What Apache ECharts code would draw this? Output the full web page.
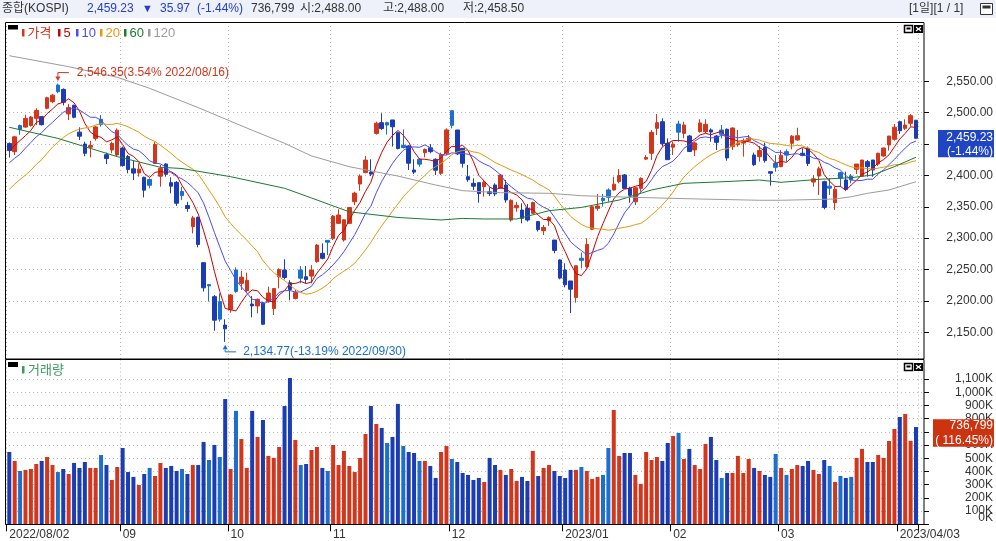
<!DOCTYPE html>
<html>
<head>
<meta charset="utf-8">
<script src="https://cdn.jsdelivr.net/npm/echarts@6/dist/echarts.min.js"></script>
<style>
html, body { margin: 0; padding: 0; background: #fff; }
#chart { width: 996px; height: 541px; }
</style>
</head>
<body>
<div id="chart"></div>
<script>
// 거래일 (2022/08/02 ~ 2023/04/06)
const dates = [
  '2022/08/02','2022/08/03','2022/08/04','2022/08/05','2022/08/08','2022/08/09','2022/08/10','2022/08/11','2022/08/12','2022/08/16',
  '2022/08/17','2022/08/18','2022/08/19','2022/08/22','2022/08/23','2022/08/24','2022/08/25','2022/08/26','2022/08/29','2022/08/30','2022/08/31',
  '2022/09/01','2022/09/02','2022/09/05','2022/09/06','2022/09/07','2022/09/08','2022/09/13','2022/09/14','2022/09/15','2022/09/16',
  '2022/09/19','2022/09/20','2022/09/21','2022/09/22','2022/09/23','2022/09/26','2022/09/27','2022/09/28','2022/09/29','2022/09/30',
  '2022/10/04','2022/10/05','2022/10/06','2022/10/07','2022/10/11','2022/10/12','2022/10/13','2022/10/14','2022/10/17','2022/10/18',
  '2022/10/19','2022/10/20','2022/10/21','2022/10/24','2022/10/25','2022/10/26','2022/10/27','2022/10/28','2022/10/31',
  '2022/11/01','2022/11/02','2022/11/03','2022/11/04','2022/11/07','2022/11/08','2022/11/09','2022/11/10','2022/11/11','2022/11/14',
  '2022/11/15','2022/11/16','2022/11/17','2022/11/18','2022/11/21','2022/11/22','2022/11/23','2022/11/24','2022/11/25','2022/11/28','2022/11/29','2022/11/30',
  '2022/12/01','2022/12/02','2022/12/05','2022/12/06','2022/12/07','2022/12/08','2022/12/09','2022/12/12','2022/12/13','2022/12/14',
  '2022/12/15','2022/12/16','2022/12/19','2022/12/20','2022/12/21','2022/12/22','2022/12/23','2022/12/26','2022/12/27','2022/12/28','2022/12/29',
  '2023/01/02','2023/01/03','2023/01/04','2023/01/05','2023/01/06','2023/01/09','2023/01/10','2023/01/11','2023/01/12','2023/01/13',
  '2023/01/16','2023/01/17','2023/01/18','2023/01/19','2023/01/20','2023/01/25','2023/01/26','2023/01/27','2023/01/30','2023/01/31',
  '2023/02/01','2023/02/02','2023/02/03','2023/02/06','2023/02/07','2023/02/08','2023/02/09','2023/02/10','2023/02/13','2023/02/14',
  '2023/02/15','2023/02/16','2023/02/17','2023/02/20','2023/02/21','2023/02/22','2023/02/23','2023/02/24','2023/02/27','2023/02/28',
  '2023/03/02','2023/03/03','2023/03/06','2023/03/07','2023/03/08','2023/03/09','2023/03/10','2023/03/13','2023/03/14','2023/03/15',
  '2023/03/16','2023/03/17','2023/03/20','2023/03/21','2023/03/22','2023/03/23','2023/03/24','2023/03/27','2023/03/28','2023/03/29','2023/03/30','2023/03/31',
  '2023/04/03','2023/04/04','2023/04/05','2023/04/06'
];

// 화면 이전 종가 (이동평균 계산용, 2022/07/06 ~ 2022/08/01)
const priorCloses = [2292.01, 2324.98, 2350.61, 2340.27, 2317.76, 2328.61, 2322.32, 2330.98, 2375.25, 2370.97,
  2386.85, 2409.16, 2393.14, 2403.69, 2412.90, 2415.53, 2435.27, 2451.50, 2452.25];

// [시가, 종가, 저가, 고가]
const ohlc = [
  [2451.0, 2439.6, 2428.5, 2452.5], [2437.9, 2461.5, 2432.5, 2463.0], [2479.5, 2473.1, 2465.0, 2481.0], [2477.0, 2490.8, 2476.0, 2497.0],
  [2479.5, 2493.1, 2477.7, 2494.5], [2491.0, 2503.5, 2480.4, 2507.0], [2493.7, 2480.9, 2479.5, 2494.6], [2507.0, 2523.8, 2505.4, 2525.5],
  [2517.6, 2527.9, 2515.0, 2529.8], [2544.0, 2533.5, 2531.0, 2546.35], [2537.0, 2516.5, 2511.7, 2538.8], [2498.0, 2508.1, 2488.4, 2513.8],
  [2511.7, 2492.7, 2491.1, 2512.8], [2469.0, 2462.5, 2456.5, 2476.6], [2450.0, 2435.3, 2430.6, 2453.7], [2445.0, 2447.5, 2428.8, 2455.0],
  [2459.0, 2477.3, 2455.4, 2478.8], [2489.4, 2481.0, 2477.7, 2496.2], [2433.0, 2426.9, 2418.2, 2436.3], [2440.6, 2450.9, 2435.3, 2453.7],
  [2432.6, 2472.1, 2430.0, 2475.0], [2443.7, 2415.6, 2414.0, 2445.9], [2430.0, 2409.4, 2403.4, 2432.5], [2410.5, 2403.7, 2392.8, 2423.0],
  [2404.0, 2410.0, 2398.0, 2419.3], [2397.0, 2376.5, 2365.0, 2398.0], [2393.5, 2384.3, 2379.4, 2395.3], [2419.0, 2449.5, 2418.2, 2453.7],
  [2398.8, 2411.4, 2382.0, 2416.6], [2418.2, 2401.8, 2398.0, 2419.3], [2388.5, 2382.8, 2371.5, 2397.0], [2389.0, 2355.7, 2351.5, 2391.0],
  [2374.5, 2367.9, 2361.0, 2382.0], [2352.0, 2347.2, 2342.0, 2358.0], [2318.4, 2332.3, 2307.7, 2335.3], [2333.2, 2290.0, 2285.4, 2334.3],
  [2261.0, 2220.9, 2215.0, 2261.0], [2226.0, 2223.9, 2199.0, 2227.0], [2206.8, 2169.3, 2152.5, 2209.4], [2198.8, 2170.9, 2167.0, 2212.0],
  [2161.5, 2155.5, 2134.77, 2170.7], [2186.6, 2209.4, 2181.3, 2211.0], [2249.3, 2215.2, 2213.2, 2253.5], [2228.0, 2237.9, 2217.4, 2248.0],
  [2216.4, 2232.8, 2213.2, 2245.0], [2195.0, 2192.1, 2173.8, 2207.8], [2192.0, 2202.5, 2180.2, 2204.0], [2197.0, 2162.9, 2161.5, 2198.8],
  [2198.8, 2212.6, 2197.0, 2222.7], [2188.0, 2219.7, 2177.5, 2220.0], [2238.6, 2250.0, 2220.0, 2252.0], [2249.3, 2237.4, 2234.4, 2266.3],
  [2229.0, 2218.1, 2201.0, 2233.0], [2204.0, 2213.1, 2202.5, 2217.4], [2249.3, 2236.2, 2228.0, 2255.7], [2238.5, 2234.0, 2228.0, 2255.7],
  [2239.6, 2249.2, 2228.0, 2257.0], [2262.5, 2289.0, 2261.0, 2290.6], [2275.9, 2267.9, 2266.3, 2291.7], [2296.5, 2293.6, 2273.0, 2296.5],
  [2299.7, 2335.2, 2297.1, 2336.9], [2323.6, 2336.9, 2322.5, 2346.0], [2297.1, 2329.2, 2294.5, 2330.0], [2323.6, 2348.8, 2322.5, 2349.2],
  [2358.0, 2371.8, 2352.8, 2374.0], [2386.3, 2399.0, 2375.7, 2401.7], [2404.5, 2424.4, 2403.4, 2431.0], [2405.5, 2402.1, 2399.0, 2425.7],
  [2467.0, 2483.2, 2465.0, 2485.6], [2484.0, 2474.7, 2472.4, 2499.0], [2484.0, 2480.3, 2465.0, 2485.6], [2488.4, 2477.5, 2446.0, 2488.5],
  [2468.0, 2442.9, 2441.5, 2469.7], [2448.0, 2444.5, 2443.0, 2473.4], [2447.0, 2419.5, 2408.6, 2448.5], [2408.6, 2405.3, 2402.3, 2425.7],
  [2425.7, 2418.0, 2414.0, 2427.2], [2436.3, 2441.3, 2428.8, 2443.0], [2444.0, 2437.9, 2435.3, 2450.0], [2425.7, 2408.3, 2400.7, 2427.2],
  [2403.4, 2433.4, 2400.7, 2436.3], [2435.3, 2472.5, 2432.5, 2475.0], [2503.1, 2479.8, 2475.0, 2503.1], [2472.4, 2434.3, 2432.5, 2472.4],
  [2443.2, 2419.3, 2412.4, 2443.2], [2398.0, 2393.2, 2390.0, 2416.6], [2387.4, 2382.8, 2376.8, 2395.3], [2388.5, 2371.1, 2356.6, 2388.5],
  [2382.1, 2389.0, 2366.2, 2391.6], [2374.0, 2371.1, 2367.3, 2381.0], [2384.7, 2370.6, 2367.0, 2387.4], [2379.5, 2400.5, 2379.0, 2402.2],
  [2384.7, 2360.9, 2356.6, 2392.8], [2329.0, 2360.3, 2326.4, 2362.0], [2348.5, 2352.2, 2342.0, 2358.0], [2344.8, 2331.6, 2323.7, 2355.6],
  [2347.5, 2329.0, 2326.4, 2354.4], [2339.6, 2356.7, 2338.6, 2358.2], [2326.4, 2313.7, 2310.6, 2326.4], [2312.0, 2317.1, 2305.0, 2321.0],
  [2327.8, 2332.8, 2319.5, 2335.0], [2297.0, 2280.5, 2276.0, 2297.0], [2265.3, 2236.4, 2234.5, 2266.3], [2249.3, 2225.7, 2221.6, 2260.0],
  [2231.8, 2218.7, 2180.7, 2231.8], [2205.6, 2256.0, 2197.2, 2256.0], [2268.0, 2264.7, 2252.0, 2277.0], [2254.6, 2290.0, 2252.0, 2299.8],
  [2314.1, 2350.2, 2313.0, 2352.8], [2347.5, 2351.3, 2343.8, 2370.4], [2363.5, 2359.9, 2350.3, 2370.4], [2376.8, 2365.1, 2358.0, 2379.4],
  [2376.8, 2386.1, 2375.7, 2398.0], [2390.0, 2399.9, 2387.4, 2410.0], [2400.7, 2379.4, 2378.8, 2402.2], [2379.4, 2368.3, 2356.6, 2382.0],
  [2358.0, 2380.3, 2352.8, 2382.0], [2379.4, 2395.3, 2374.0, 2397.0], [2426.0, 2428.6, 2424.5, 2432.4], [2435.3, 2468.7, 2424.6, 2472.3],
  [2475.0, 2484.0, 2464.5, 2498.0], [2485.6, 2450.5, 2445.9, 2491.0], [2451.2, 2425.1, 2424.6, 2459.0], [2445.0, 2449.8, 2432.5, 2453.7],
  [2481.9, 2468.9, 2453.7, 2487.2], [2467.0, 2480.4, 2459.1, 2485.6], [2462.8, 2438.2, 2437.9, 2464.4], [2440.6, 2451.7, 2431.0, 2453.7],
  [2469.8, 2483.6, 2468.2, 2489.4], [2469.8, 2481.5, 2467.1, 2489.4], [2472.4, 2469.1, 2453.7, 2475.0], [2462.8, 2452.7, 2440.6, 2464.4],
  [2472.4, 2465.6, 2459.0, 2480.3], [2473.5, 2427.9, 2423.5, 2475.0], [2445.9, 2475.5, 2440.6, 2476.6], [2449.0, 2451.2, 2445.9, 2472.4],
  [2451.5, 2455.1, 2430.0, 2459.0], [2455.5, 2459.0, 2453.7, 2464.4], [2432.5, 2417.2, 2415.0, 2436.3], [2429.9, 2439.6, 2422.0, 2447.0],
  [2444.8, 2423.6, 2420.4, 2452.2], [2406.0, 2403.5, 2383.7, 2406.0], [2419.3, 2412.9, 2406.0, 2432.5], [2414.0, 2432.1, 2413.0, 2440.6],
  [2437.9, 2432.4, 2421.9, 2441.6], [2451.2, 2462.6, 2441.6, 2464.4], [2456.5, 2463.3, 2455.4, 2476.0], [2435.3, 2431.9, 2430.5, 2443.2],
  [2443.2, 2419.1, 2415.0, 2445.9], [2389.5, 2394.6, 2382.0, 2400.7], [2399.0, 2410.6, 2368.8, 2414.0], [2390.0, 2349.0, 2346.0, 2391.6],
  [2382.9, 2379.7, 2368.8, 2395.3], [2356.6, 2377.9, 2344.9, 2382.0], [2404.4, 2395.7, 2382.0, 2406.0], [2392.8, 2377.9, 2375.7, 2406.0],
  [2399.0, 2392.8, 2387.4, 2402.2], [2409.7, 2418.2, 2402.2, 2418.2], [2399.0, 2424.6, 2398.0, 2424.6], [2421.9, 2414.0, 2398.0, 2424.6],
  [2424.6, 2408.6, 2398.0, 2424.6], [2418.2, 2435.3, 2415.0, 2436.3], [2431.0, 2443.7, 2429.9, 2444.3], [2448.5, 2462.8, 2439.5, 2462.8],
  [2457.6, 2476.9, 2455.4, 2481.9], [2485.6, 2471.3, 2466.0, 2487.2], [2475.0, 2480.3, 2472.4, 2489.4], [2483.0, 2495.2, 2477.7, 2497.6],
  [2488.0, 2459.23, 2458.5, 2488.0]
];

// 거래량 (천주)
const volumes = [
  548000, 480000, 404000, 412000, 419000, 457000, 480000, 510000, 449000, 396000, 419000, 381000, 465000, 427000, 472000, 427000,
  427000, 525000, 449000, 336000, 434000, 578000, 396000, 359000, 298000, 381000, 427000, 366000, 465000, 427000, 442000, 404000,
  419000, 381000, 449000, 449000, 624000, 487000, 601000, 510000, 949000, 419000, 859000, 646000, 427000, 859000, 662000, 790000,
  518000, 503000, 586000, 896000, 1109000, 639000, 449000, 457000, 563000, 586000, 427000, 404000, 601000, 449000, 556000, 442000,
  396000, 503000, 684000, 896000, 760000, 730000, 616000, 662000, 912000, 593000, 548000, 540000, 480000, 480000, 442000, 351000,
  548000, 593000, 495000, 472000, 389000, 374000, 336000, 351000, 321000, 503000, 449000, 412000, 374000, 419000, 328000, 359000,
  328000, 556000, 366000, 427000, 449000, 404000, 366000, 351000, 412000, 412000, 434000, 404000, 343000, 359000, 374000, 578000,
  866000, 518000, 540000, 540000, 374000, 306000, 548000, 487000, 510000, 480000, 616000, 669000, 692000, 495000, 571000, 449000,
  419000, 609000, 662000, 487000, 351000, 389000, 389000, 518000, 389000, 495000, 427000, 404000, 374000, 359000, 533000, 427000,
  374000, 419000, 449000, 442000, 480000, 412000, 381000, 487000, 442000, 321000, 366000, 351000, 359000, 503000, 571000, 472000,
  472000, 525000, 503000, 631000, 722000, 813000, 836000, 632716, 736799
];

// 60일 / 120일 이동평균 (그림에서 읽은 값, [인덱스, 값])
const ma60Points = [[0, 2476.7], [9, 2459.0], [20, 2430.0], [28, 2413.0], [32, 2411.0], [41, 2398.0], [51, 2379.5], [56, 2364.0],
  [63, 2342.0], [72, 2333.0], [80, 2329.0], [84, 2331.5], [88, 2330.6], [94, 2330.6], [100, 2343.8], [106, 2349.0], [113, 2360.8],
  [119, 2376.8], [125, 2387.4], [131, 2389.5], [139, 2392.7], [143, 2389.0], [150, 2393.8], [156, 2396.4], [160, 2400.7],
  [164, 2414.0], [168, 2429.0]];
const ma120Points = [[0, 2590.8], [11, 2573.3], [20, 2556.4], [26, 2538.8], [35, 2508.0], [45, 2472.0], [51, 2451.2], [56, 2431.0],
  [63, 2413.9], [72, 2399.0], [79, 2384.7], [84, 2375.7], [91, 2372.5], [100, 2371.5], [106, 2367.7], [116, 2365.0], [128, 2362.4],
  [139, 2360.4], [143, 2360.4], [153, 2362.4], [156, 2366.0], [159, 2371.5], [163, 2376.8], [168, 2390.0]];

const priceTicks = [2150, 2200, 2250, 2300, 2350, 2400, 2450, 2500, 2550];
const volumeTicks = [0, 100000, 200000, 300000, 400000, 500000, 600000, 700000, 800000, 900000, 1000000, 1100000];
const xTickLabels = ['2022/08/02', '09', '10', '11', '12', '2023/01', '02', '03', '2023/04/03'];

const FONT = "'Liberation Sans', 'Noto Sans CJK KR', sans-serif";
const RED = '#d3361b';
const BLUE = '#1a3cb4';
const LBLUE = '#1b6fce';
const MA_COLORS = { 5: '#cc0000', 10: '#4a4aff', 20: '#e3990c', 60: '#1c7a2e', 120: '#9c9c9c' };
const GRID_LINE = { color: '#b8b8b8', type: [1, 3], width: 1 };

const chart = echarts.init(document.getElementById('chart'), null, { renderer: 'canvas' });

const closes = ohlc.map(r => r[1]);
const allCloses = priorCloses.concat(closes);

// 이동평균은 종가로 계산
function movingAvg(n) {
  return closes.map((c, i) => {
    const end = i + priorCloses.length;
    if (end - n + 1 < 0) return null;
    let s = 0;
    for (let k = end - n + 1; k <= end; k++) s += allCloses[k];
    return +(s / n).toFixed(2);
  });
}

function sparse(points) {
  const out = dates.map(() => null);
  points.forEach(([i, v]) => { out[i] = v; });
  return out;
}

function candleColor(i) {
  const [o, c] = ohlc[i];
  const prev = i > 0 ? ohlc[i - 1][1] : priorCloses[priorCloses.length - 1];
  if (c >= o) return RED;
  return c > prev ? LBLUE : BLUE;
}

function fmt(v, d) {
  return v.toLocaleString('en-US', { minimumFractionDigits: d, maximumFractionDigits: d });
}

// 월 경계 인덱스
const monthStarts = [];
dates.forEach((d, i) => {
  if (i === 0 || d.slice(0, 7) !== dates[i - 1].slice(0, 7)) monthStarts.push(i);
});
const tickLabelAt = {};
monthStarts.forEach((idx, k) => { tickLabelAt[idx] = xTickLabels[k]; });
const isMonthStart = (index) => tickLabelAt[index] !== undefined;

const candleData = ohlc.map((r, i) => {
  const col = candleColor(i);
  return { value: r, itemStyle: { color: col, color0: col, borderColor: col, borderColor0: col } };
});
const volumeData = volumes.map((v, i) => ({ value: v, itemStyle: { color: candleColor(i) } }));

const dataLeft = 6.6, dataRight = 77.3, frameLeft = 5, frameRight = 72;
const priceTop = 81.3, priceH = 251;
const volTop = 379.1, volH = 145.2;

const hiddenCat = (grid) => ({ type: 'category', gridIndex: grid, data: dates, boundaryGap: true, show: false });

const option = {
  animation: false,
  backgroundColor: '#fff',
  textStyle: { fontFamily: FONT },
  grid: [
    { left: frameLeft, right: frameRight, top: priceTop, height: priceH, outerBoundsMode: 'none' },
    { left: dataLeft, right: dataRight, top: priceTop, height: priceH, outerBoundsMode: 'none' },
    { left: dataLeft, right: dataRight, top: 22, height: 337, outerBoundsMode: 'none' },
    { left: frameLeft, right: frameRight, top: volTop, height: volH, outerBoundsMode: 'none' },
    { left: dataLeft, right: dataRight, top: volTop, height: volH, outerBoundsMode: 'none' },
    { left: dataLeft, right: dataRight, top: 359.5, height: 164.8, outerBoundsMode: 'none' }
  ],
  xAxis: [
    hiddenCat(0),
    hiddenCat(1),
    {
      type: 'category', gridIndex: 2, data: dates, boundaryGap: true,
      axisLine: { show: false }, axisTick: { show: false }, axisLabel: { show: false },
      splitLine: { show: true, interval: isMonthStart, lineStyle: GRID_LINE }
    },
    hiddenCat(3),
    hiddenCat(4),
    {
      type: 'category', gridIndex: 5, data: dates, boundaryGap: true,
      axisLine: { show: false },
      axisTick: { show: true, interval: isMonthStart, length: 7, lineStyle: { color: '#000', width: 1 } },
      axisLabel: {
        interval: isMonthStart, align: 'left', margin: 4, fontSize: 12, color: '#333', fontFamily: FONT,
        formatter: (value, index) => tickLabelAt[index] || ''
      },
      splitLine: { show: true, interval: isMonthStart, lineStyle: GRID_LINE }
    }
  ],
  yAxis: [
    {
      type: 'value', gridIndex: 0, position: 'right',
      min: priceTicks[0], max: priceTicks[priceTicks.length - 1], interval: priceTicks[1] - priceTicks[0],
      axisLine: { show: false },
      axisTick: { show: true, length: 5, lineStyle: { color: '#000' } },
      axisLabel: { align: 'right', margin: 69, fontSize: 12, color: '#333', fontFamily: FONT, formatter: v => fmt(v, 2) },
      splitLine: { show: true, lineStyle: GRID_LINE }
    },
    {
      type: 'value', gridIndex: 1, position: 'right', show: false,
      min: priceTicks[0], max: priceTicks[priceTicks.length - 1]
    },
    { type: 'value', gridIndex: 2, show: false, min: 0, max: 1 },
    {
      type: 'value', gridIndex: 3, position: 'right',
      min: volumeTicks[0], max: volumeTicks[volumeTicks.length - 1], interval: volumeTicks[1] - volumeTicks[0],
      axisLine: { show: false },
      axisTick: { show: true, length: 5, lineStyle: { color: '#000' } },
      axisLabel: {
        align: 'right', margin: 69, fontSize: 12, color: '#333', fontFamily: FONT,
        formatter: v => v === 0 ? '' : fmt(v / 1000, 0) + 'K'
      },
      splitLine: { show: true, lineStyle: GRID_LINE }
    },
    {
      type: 'value', gridIndex: 4, position: 'right', show: false,
      min: volumeTicks[0], max: volumeTicks[volumeTicks.length - 1]
    },
    { type: 'value', gridIndex: 5, show: false, min: 0, max: 1 }
  ],
  series: [
    {
      name: '가격', type: 'candlestick', xAxisIndex: 1, yAxisIndex: 1,
      data: candleData, barWidth: 4, clip: false, z: 2
    },
    ...[5, 10, 20].map(n => ({
      name: String(n), type: 'line', xAxisIndex: 1, yAxisIndex: 1, data: movingAvg(n),
      symbol: 'none', clip: false, z: 3, lineStyle: { width: 1, color: MA_COLORS[n] }, itemStyle: { color: MA_COLORS[n] }
    })),
    {
      name: '60', type: 'line', xAxisIndex: 1, yAxisIndex: 1, data: sparse(ma60Points), connectNulls: true,
      symbol: 'none', clip: false, z: 3, lineStyle: { width: 1, color: MA_COLORS[60] }
    },
    {
      name: '120', type: 'line', xAxisIndex: 1, yAxisIndex: 1, data: sparse(ma120Points), connectNulls: true,
      symbol: 'none', clip: false, z: 3, lineStyle: { width: 1, color: MA_COLORS[120] }
    },
    {
      name: '거래량', type: 'bar', xAxisIndex: 4, yAxisIndex: 4, data: volumeData, barWidth: 4, clip: false
    }
  ]
};

chart.setOption(option);

// ---- 보조 그래픽 (테두리, 범례, 주석, 현재가 박스) ----
function label(t, x, y, fill, extra) {
  return {
    type: 'text', silent: true, z: (extra && extra.z) || 120,
    style: Object.assign({ text: t, x, y, fill, font: '12px ' + FONT, verticalAlign: 'middle', align: 'left' }, extra && extra.style)
  };
}
function rect(x, y, w, h, style, z) {
  return { type: 'rect', silent: true, z: z || 110, shape: { x, y, width: w, height: h }, style };
}
function paneButtons(y) {
  return [
    rect(904.5, y + 0.5, 8, 7, { fill: '#fff', stroke: '#000', lineWidth: 1.5 }),
    rect(906.5, y + 2.5, 4, 2, { fill: '#000' }),
    rect(914, y, 9, 8, { fill: '#000' }),
    { type: 'polyline', silent: true, z: 115, shape: { points: [[916, y + 2], [921, y + 6]] }, style: { stroke: '#fff', lineWidth: 1.2 } },
    { type: 'polyline', silent: true, z: 115, shape: { points: [[921, y + 2], [916, y + 6]] }, style: { stroke: '#fff', lineWidth: 1.2 } }
  ];
}

const last = ohlc.length - 1;
const lastClose = closes[last];
const prevClose = closes[last - 1];
const change = lastClose - prevClose;
const changePct = change / prevClose * 100;

const g = [];
// 상단 헤더
g.push(rect(0, 0, 996, 18, { fill: '#eef0fa' }, 100));
g.push(label('종합(KOSPI)', 2, 9, '#333'));
g.push(label(fmt(lastClose, 2), 87, 9, '#2440c8'));
g.push(label(change < 0 ? '▼' : '▲', 142, 9, '#2440c8', { style: { font: '11px ' + FONT } }));
g.push(label(fmt(Math.abs(change), 2), 160, 9, '#2440c8'));
g.push(label('(' + fmt(changePct, 2) + '%)', 197, 9, '#2440c8'));
g.push(label(fmt(volumes[last], 0), 251, 9, '#333'));
g.push(label('시:' + fmt(ohlc[last][0], 2), 300, 9, '#333'));
g.push(label('고:' + fmt(ohlc[last][3], 2), 383, 9, '#333'));
g.push(label('저:' + fmt(ohlc[last][2], 2), 463, 9, '#333'));
g.push(label('[1일][1 / 1]', 909, 9, '#333'));
g.push(rect(980.5, 3.5, 12, 11, { fill: '#fff', stroke: '#333', lineWidth: 1 }));
g.push(rect(982.5, 5.5, 8, 3, { fill: '#333' }));

// 패널 테두리
g.push(rect(5.5, 22.5, 918.5, 336.5, { fill: null, stroke: '#000', lineWidth: 1 }));
g.push(rect(5.5, 359.5, 918.5, 165, { fill: null, stroke: '#000', lineWidth: 1 }));

// 가격 범례
g.push(rect(8, 25, 10, 4.5, { fill: '#000' }));
const legendItems = [
  ['가격', RED, 22], ['5', MA_COLORS[5], 58], ['10', MA_COLORS[10], 76],
  ['20', MA_COLORS[20], 100], ['60', MA_COLORS[60], 124], ['120', MA_COLORS[120], 148]
];
legendItems.forEach(([name, col, x]) => {
  g.push(rect(x, 29, 2.5, 7.5, { fill: col }));
  g.push(label(name, x + 5.5, 33, col, { style: { font: '13px ' + FONT } }));
});
g.push(...paneButtons(25));

// 거래량 범례
g.push(rect(8, 362, 10, 5, { fill: '#000' }));
g.push(rect(22, 366, 2.5, 7.5, { fill: '#3a9a60' }));
g.push(label('거래량', 28, 370, '#3a9a60', { style: { font: '13px ' + FONT } }));
g.push(...paneButtons(363));
// 거래량 축 0K 라벨 (하단 테두리에 겹치지 않게 위로)
g.push(label('0K', 993, 518, '#333', { style: { align: 'right' } }));

// 최고/최저 주석
let hiIdx = 0, loIdx = 0;
ohlc.forEach((r, i) => {
  if (r[3] > ohlc[hiIdx][3]) hiIdx = i;
  if (r[2] < ohlc[loIdx][2]) loIdx = i;
});
const hiVal = ohlc[hiIdx][3], loVal = ohlc[loIdx][2];
const hp = chart.convertToPixel({ seriesIndex: 0 }, [hiIdx, hiVal]);
const lp = chart.convertToPixel({ seriesIndex: 0 }, [loIdx, loVal]);
const pctOf = v => fmt((v / lastClose - 1) * 100, 2);

g.push({ type: 'polygon', silent: true, z: 120, shape: { points: [[hp[0] - 2.5, hp[1] - 7], [hp[0] + 2.5, hp[1] - 7], [hp[0], hp[1] - 2.5]] }, style: { fill: RED } });
g.push({ type: 'polyline', silent: true, z: 120, shape: { points: [[hp[0], hp[1] - 7], [hp[0], hp[1] - 11], [hp[0] + 11, hp[1] - 11]] }, style: { stroke: RED, lineWidth: 1 } });
g.push(label(fmt(hiVal, 2) + '(' + pctOf(hiVal) + '% ' + dates[hiIdx] + ')', hp[0] + 19, hp[1] - 11, RED));

g.push({ type: 'polygon', silent: true, z: 120, shape: { points: [[lp[0] - 2.5, lp[1] + 7.5], [lp[0] + 2.5, lp[1] + 7.5], [lp[0], lp[1] + 3]] }, style: { fill: LBLUE } });
g.push({ type: 'polyline', silent: true, z: 120, shape: { points: [[lp[0], lp[1] + 7.5], [lp[0], lp[1] + 10], [lp[0] + 11, lp[1] + 10]] }, style: { stroke: LBLUE, lineWidth: 1 } });
g.push(label(fmt(loVal, 2) + '(' + pctOf(loVal) + '% ' + dates[loIdx] + ')', lp[0] + 18, lp[1] + 10, LBLUE));

// 현재가 박스
const py = chart.convertToPixel({ yAxisIndex: 1 }, lastClose);
g.push(rect(938, py - 8.3, 56, 27.3, { fill: '#1f44c4' }, 130));
g.push(label(fmt(lastClose, 2), 993, py - 0.6, '#fff', { z: 131, style: { align: 'right' } }));
g.push(label('(' + fmt(changePct, 2) + '%)', 993, py + 13.4, '#fff', { z: 131, style: { align: 'right' } }));

// 거래량 박스
const vy = chart.convertToPixel({ yAxisIndex: 4 }, volumes[last]);
const volPct = volumes[last] / volumes[last - 1] * 100;
g.push(rect(933, vy - 7.7, 61, 27.4, { fill: '#cc3311' }, 130));
g.push(label(fmt(volumes[last], 0), 993, vy - 1.3, '#fff', { z: 131, style: { align: 'right' } }));
g.push(label('( ' + fmt(volPct, 2) + '%)', 993, vy + 14, '#fff', { z: 131, style: { align: 'right' } }));

chart.setOption({ graphic: g });
</script>
</body>
</html>
